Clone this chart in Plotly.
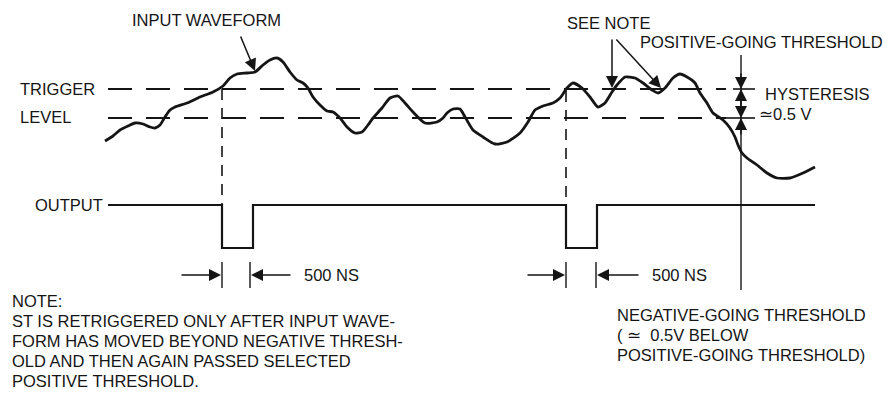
import plotly.graph_objects as go

# ---- data (diagram coordinates: x = time axis, y = level axis, top-down) ----
wave_x = [105, 113, 120, 128, 135, 143, 150, 155, 160, 165, 170, 175, 187, 200, 213, 223, 230, 237, 247, 255,
          263, 270, 277, 283, 290, 297, 303, 308, 313, 320, 327, 333, 340, 347, 355, 362, 368, 373, 382, 390,
          398, 405, 413, 425, 437, 443, 447, 453, 460, 465, 473, 483, 495, 507, 520, 528, 535, 543, 553, 560,
          567, 573, 582, 590, 598, 605, 612, 617, 625, 635, 643, 652, 658, 665, 673, 680, 687, 695, 700, 707,
          713, 723, 730, 735, 738, 742, 747, 757, 767, 777, 790, 803, 815]
wave_y = [141, 136, 130, 126, 123, 124, 127, 128, 125, 117, 110, 107, 103, 97, 92, 86, 78, 74, 73, 72,
          65, 60, 58, 62, 72, 80, 83, 88, 97, 105, 111, 112, 118, 127, 133, 132, 125, 118, 108, 98,
          96, 103, 112, 123, 122, 118, 113, 109, 109, 117, 130, 137, 144, 142, 133, 122, 110, 106, 103, 98,
          88, 83, 88, 97, 107, 103, 92, 85, 77, 78, 83, 90, 93, 88, 78, 74, 77, 83, 93, 103,
          113, 120, 128, 137, 145, 153, 158, 165, 173, 178, 178, 173, 167]

pos_threshold = 89      # positive-going threshold (trigger level)
neg_threshold = 118     # negative-going threshold
out_high = 205
out_low = 248
out_start, out_end = 108, 815
pulse_starts = [222, 566]
pulse_ends = [253, 597]
trigger_x = [222, 566]
trigger_top = [89, 91]
thr_line_x = 741

note_lines = ["NOTE:",
              "ST IS RETRIGGERED ONLY AFTER INPUT WAVE-",
              "FORM HAS MOVED BEYOND NEGATIVE THRESH-",
              "OLD AND THEN AGAIN PASSED SELECTED",
              "POSITIVE THRESHOLD."]
neg_lines = ["NEGATIVE-GOING THRESHOLD",
             "( \u2243  0.5V BELOW",
             "POSITIVE-GOING THRESHOLD)"]

INK = "#151515"
FONT = dict(family="Liberation Sans, Arial, sans-serif", size=16.5, color=INK)

# page has an 8px body margin: shift the visible window so coordinates match the page
PAGE_OFF = 8

fig = go.Figure()

# input waveform
fig.add_trace(go.Scatter(x=wave_x, y=wave_y, mode="lines",
                         line=dict(color=INK, width=2.8, shape="spline", smoothing=0.6),
                         hoverinfo="skip", showlegend=False))

# output waveform
ox, oy = [out_start], [out_high]
for s, e in zip(pulse_starts, pulse_ends):
    ox += [s, s, e, e]
    oy += [out_high, out_low, out_low, out_high]
ox.append(out_end)
oy.append(out_high)
fig.add_trace(go.Scatter(x=ox, y=oy, mode="lines", line=dict(color=INK, width=2.2),
                         hoverinfo="skip", showlegend=False))

shapes = []
# threshold dashed lines
for lvl in (pos_threshold, neg_threshold):
    shapes.append(dict(type="line", x0=108, x1=726, y0=lvl, y1=lvl, xref="x", yref="y",
                       line=dict(color=INK, width=1.8, dash="24px,14px")))
# solid ticks at the hysteresis marker
shapes.append(dict(type="line", x0=733, x1=755, y0=pos_threshold, y1=pos_threshold, xref="x", yref="y",
                   line=dict(color=INK, width=1.6)))
shapes.append(dict(type="line", x0=725, x1=755, y0=neg_threshold, y1=neg_threshold, xref="x", yref="y",
                   line=dict(color=INK, width=1.6)))
# vertical dashed trigger lines
for tx, tt in zip(trigger_x, trigger_top):
    shapes.append(dict(type="line", x0=tx, x1=tx, y0=tt, y1=out_high, xref="x", yref="y",
                       line=dict(color=INK, width=1.6, dash="11px,8px")))
# long vertical threshold line
shapes.append(dict(type="line", x0=thr_line_x, x1=thr_line_x, y0=55, y1=290, xref="x", yref="y",
                   line=dict(color=INK, width=1.4)))
# 500 NS ticks
for s, e in zip(pulse_starts, [250, 596]):
    for tx in (s, e):
        shapes.append(dict(type="line", x0=tx, x1=tx, y0=262, y1=288, xref="x", yref="y",
                           line=dict(color=INK, width=1.4)))

annotations = []

def arrow(hx, hy, tx, ty, size=1.6, width=1.5):
    annotations.append(dict(x=hx, y=hy, ax=tx, ay=ty, xref="x", yref="y", axref="x", ayref="y",
                            text="", showarrow=True, arrowhead=2, arrowsize=size,
                            arrowwidth=width, arrowcolor=INK))

def label(x, y, t, anchor="left"):
    annotations.append(dict(x=x, y=y, xref="x", yref="y", text=t, showarrow=False,
                            xanchor=anchor, yanchor="middle", font=FONT))

# arrows
arrow(255, 71, 240, 35)
arrow(612, 88, 612, 38)
arrow(661, 88, 615, 38)
arrow(thr_line_x, pos_threshold, thr_line_x, 72)
arrow(thr_line_x, pos_threshold, thr_line_x, 106)
arrow(thr_line_x, neg_threshold, thr_line_x, 101)
arrow(thr_line_x, neg_threshold, thr_line_x, 136)
arrow(221, 275, 180, 275)
arrow(251, 275, 292, 275)
arrow(565, 275, 526, 275)
arrow(597, 275, 640, 275)

# labels
label(130, 20, "INPUT WAVEFORM")
label(18, 89, "TRIGGER")
label(18, 117, "LEVEL")
label(33, 205, "OUTPUT")
label(565, 23, "SEE NOTE")
label(638, 42, "POSITIVE-GOING THRESHOLD")
label(763, 94, "HYSTERESIS")
label(757, 114, "\u22430.5 V")
label(302, 275, "500 NS")
label(650, 275, "500 NS")
for i, t in enumerate(note_lines):
    label(10, 301 + 20 * i, t)
for i, t in enumerate(neg_lines):
    label(615, 315 + 20 * i, t)

W, H = 894, 394
fig.update_layout(
    width=W - PAGE_OFF, height=H - PAGE_OFF,
    margin=dict(l=0, r=0, t=0, b=0),
    paper_bgcolor="white", plot_bgcolor="white",
    xaxis=dict(range=[PAGE_OFF, W], visible=False, fixedrange=True),
    yaxis=dict(range=[H, PAGE_OFF], visible=False, fixedrange=True),
    shapes=shapes, annotations=annotations,
    showlegend=False,
)

fig.write_html("out.html")
